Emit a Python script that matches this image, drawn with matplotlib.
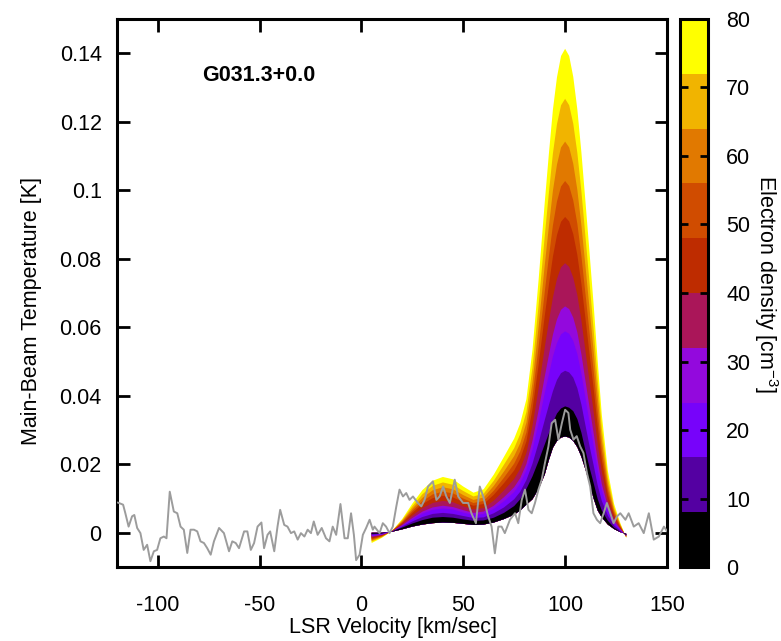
import matplotlib
matplotlib.use("Agg")
import matplotlib.pyplot as plt
from matplotlib.colors import ListedColormap, BoundaryNorm
from matplotlib.cm import ScalarMappable
from matplotlib.ticker import FuncFormatter

plt.rcParams["font.family"] = ["Liberation Sans", "DejaVu Sans"]
plt.rcParams["mathtext.fontset"] = "custom"
plt.rcParams["mathtext.rm"] = "Liberation Sans"
plt.rcParams["mathtext.it"] = "Liberation Sans:italic"
plt.rcParams["axes.unicode_minus"] = False

SOURCE = "G031.3+0.0"

# model velocity grid [km/s]
vel_model = [5, 10, 15, 20, 25, 30, 35, 40, 45, 50, 55, 60, 65, 70,
             75, 78, 81, 84, 87, 90, 92, 94, 96, 98, 100, 102, 104, 106, 108, 110,
             112, 114, 116, 118, 121, 124, 127, 130]

# lower edge of the model stack [K]
model_base = [0.0, 0.0, 0.0003, 0.0010, 0.0018, 0.0024, 0.0028, 0.0030, 0.0029, 0.0026,
              0.0023, 0.0024, 0.0030, 0.0040,
              0.0053, 0.0065, 0.0082, 0.0098, 0.0128, 0.0170, 0.0212, 0.0248, 0.0268, 0.0278,
              0.0281, 0.0278, 0.0268, 0.0250, 0.0222, 0.0185, 0.0143, 0.0100, 0.0065, 0.0045,
              0.0024, 0.0011, 0.0002, -0.0003]

# model spectra, one per electron density band [K]
model_n08 = [-0.0003, -0.0002, 0.0004, 0.0015, 0.0027, 0.0037, 0.0044, 0.0046, 0.0044, 0.0039,
             0.0035, 0.0036, 0.0044, 0.0058,
             0.0078, 0.0098, 0.0128, 0.0165, 0.0210, 0.0258, 0.0290, 0.0322, 0.0348, 0.0363,
             0.0369, 0.0365, 0.0355, 0.0332, 0.0292, 0.0240, 0.0190, 0.0145, 0.0098, 0.0065,
             0.0035, 0.0015, 0.0003, -0.0006]
model_n16 = [-0.0006, -0.0003, 0.0004, 0.0018, 0.0033, 0.0046, 0.0055, 0.0058, 0.0055, 0.0049,
             0.0043, 0.0045, 0.0057, 0.0074,
             0.0098, 0.0120, 0.0154, 0.0202, 0.0263, 0.0329, 0.0372, 0.0413, 0.0446, 0.0466,
             0.0473, 0.0468, 0.0453, 0.0422, 0.0374, 0.0313, 0.0253, 0.0197, 0.0138, 0.0093,
             0.0050, 0.0022, 0.0006, -0.0007]
model_n24 = [-0.0009, -0.0005, 0.0004, 0.0020, 0.0039, 0.0056, 0.0067, 0.0071, 0.0068, 0.0059,
             0.0052, 0.0055, 0.0070, 0.0092,
             0.0119, 0.0145, 0.0183, 0.0243, 0.0321, 0.0407, 0.0461, 0.0514, 0.0554, 0.0579,
             0.0588, 0.0581, 0.0560, 0.0522, 0.0464, 0.0393, 0.0322, 0.0254, 0.0182, 0.0124,
             0.0066, 0.0030, 0.0009, -0.0008]
model_n32 = [-0.0011, -0.0006, 0.0004, 0.0022, 0.0043, 0.0062, 0.0074, 0.0079, 0.0075, 0.0066,
             0.0058, 0.0062, 0.0079, 0.0104,
             0.0133, 0.0160, 0.0201, 0.0269, 0.0358, 0.0456, 0.0518, 0.0578, 0.0623, 0.0651,
             0.0661, 0.0653, 0.0628, 0.0585, 0.0521, 0.0443, 0.0366, 0.0291, 0.0211, 0.0143,
             0.0076, 0.0035, 0.0011, -0.0009]
model_n40 = [-0.0014, -0.0007, 0.0004, 0.0025, 0.0050, 0.0072, 0.0087, 0.0093, 0.0089, 0.0077,
             0.0068, 0.0072, 0.0094, 0.0124,
             0.0157, 0.0187, 0.0233, 0.0313, 0.0422, 0.0541, 0.0616, 0.0687, 0.0741, 0.0775,
             0.0787, 0.0776, 0.0745, 0.0694, 0.0619, 0.0530, 0.0441, 0.0353, 0.0259, 0.0177,
             0.0093, 0.0043, 0.0014, -0.0010]
model_n48 = [-0.0017, -0.0009, 0.0005, 0.0028, 0.0058, 0.0084, 0.0101, 0.0108, 0.0103, 0.0090,
             0.0079, 0.0084, 0.0111, 0.0145,
             0.0182, 0.0216, 0.0267, 0.0361, 0.0491, 0.0633, 0.0722, 0.0806, 0.0869, 0.0908,
             0.0922, 0.0909, 0.0872, 0.0811, 0.0726, 0.0625, 0.0522, 0.0421, 0.0311, 0.0213,
             0.0112, 0.0052, 0.0017, -0.0011]
model_n56 = [-0.0020, -0.0010, 0.0005, 0.0031, 0.0064, 0.0092, 0.0112, 0.0120, 0.0115, 0.0100,
             0.0087, 0.0093, 0.0123, 0.0161,
             0.0202, 0.0238, 0.0293, 0.0398, 0.0544, 0.0703, 0.0804, 0.0897, 0.0967, 0.1011,
             0.1027, 0.1012, 0.0970, 0.0902, 0.0807, 0.0697, 0.0585, 0.0473, 0.0351, 0.0241,
             0.0126, 0.0059, 0.0020, -0.0012]
model_n64 = [-0.0023, -0.0012, 0.0005, 0.0034, 0.0070, 0.0102, 0.0124, 0.0133, 0.0127, 0.0110,
             0.0096, 0.0103, 0.0137, 0.0179,
             0.0224, 0.0262, 0.0322, 0.0439, 0.0602, 0.0781, 0.0893, 0.0998, 0.1075, 0.1125,
             0.1142, 0.1125, 0.1077, 0.1001, 0.0897, 0.0777, 0.0654, 0.0531, 0.0396, 0.0272,
             0.0142, 0.0067, 0.0023, -0.0013]
model_n72 = [-0.0026, -0.0013, 0.0005, 0.0037, 0.0077, 0.0113, 0.0137, 0.0147, 0.0140, 0.0122,
             0.0106, 0.0114, 0.0152, 0.0199,
             0.0247, 0.0289, 0.0353, 0.0483, 0.0666, 0.0866, 0.0991, 0.1107, 0.1193, 0.1248,
             0.1267, 0.1248, 0.1194, 0.1109, 0.0996, 0.0864, 0.0729, 0.0593, 0.0444, 0.0306,
             0.0160, 0.0075, 0.0026, -0.0014]
model_n80 = [-0.0030, -0.0015, 0.0005, 0.0040, 0.0085, 0.0125, 0.0152, 0.0163, 0.0156, 0.0135,
             0.0117, 0.0127, 0.0170, 0.0222,
             0.0275, 0.0320, 0.0390, 0.0535, 0.0740, 0.0965, 0.1105, 0.1235, 0.1330, 0.1392,
             0.1413, 0.1392, 0.1331, 0.1236, 0.1110, 0.0966, 0.0817, 0.0666, 0.0500, 0.0345,
             0.0180, 0.0085, 0.0030, -0.0015]

density_edges = [0, 8, 16, 24, 32, 40, 48, 56, 64, 72, 80]
density_ticks = [0, 10, 20, 30, 40, 50, 60, 70, 80]

# observed spectrum
vel_obs = [-119.5, -117.0, -115.9, -114.3, -112.6, -111.5, -110.1, -108.5, -106.9, -105.2,
           -103.6, -101.9, -100.3, -98.7, -97.0, -95.7, -94.1, -92.1, -90.4, -88.8,
           -87.2, -85.5, -83.9, -82.2, -80.6, -79.0, -77.3, -75.7, -74.0, -72.4,
           -69.9, -67.5, -65.0, -63.4, -61.7, -60.1, -57.6, -56.0, -54.3, -52.7,
           -51.0, -49.1, -47.8, -46.1, -44.8, -42.8, -41.2, -39.9, -37.9, -36.3,
           -34.6, -33.0, -31.3, -29.7, -28.0, -26.4, -24.8, -23.4, -21.5, -19.5,
           -17.4, -15.7, -14.1, -12.4, -10.3, -8.3, -6.7, -5.1, -3.7, -2.6,
           -0.9, 0.7, 2.3, 4.0, 5.6, 6.4, 8.9, 10.5, 12.1, 13.8,
           15.4, 17.1, 18.7, 20.4, 22.0, 23.6, 25.3, 27.7, 29.4, 31.0,
           32.7, 35.1, 36.8, 38.4, 40.1, 41.7, 43.4, 45.8, 47.5, 49.9,
           52.4, 54.0, 56.2, 58.1, 59.8, 62.2, 63.9, 65.5, 67.2, 68.8,
           70.4, 72.9, 75.4, 77.0, 78.7, 80.3, 82.0, 83.6, 85.2, 86.9,
           88.5, 90.1, 91.8, 93.4, 95.1, 96.7, 98.4, 100.0, 101.6, 102.5,
           104.1, 105.7, 107.4, 109.0, 110.7, 112.3, 113.9, 115.6, 117.2, 118.9,
           120.5, 122.2, 123.8, 125.5, 127.1, 129.6, 131.2, 133.7, 136.1, 138.6,
           141.1, 143.5, 146.0, 148.5, 150.0]
temp_obs = [0.0088, 0.0082, 0.0057, 0.0018, 0.0048, 0.0052, 0.0014, -0.0001, -0.0050, -0.0035,
            -0.0083, -0.0054, -0.0050, -0.0016, -0.0011, -0.0016, 0.0120, 0.0062, 0.0057, 0.0018,
            0.0009, -0.0059, 0.0009, 0.0009, 0.0004, -0.0025, -0.0030, -0.0045, -0.0064, -0.0025,
            0.0014, -0.0001, -0.0054, -0.0025, -0.0030, -0.0045, 0.0004, 0.0004, -0.0050, -0.0030,
            0.0018, 0.0030, -0.0045, -0.0006, 0.0004, -0.0054, 0.0018, 0.0067, 0.0023, 0.0018,
            -0.0001, 0.0004, -0.0020, -0.0001, -0.0011, 0.0009, -0.0001, 0.0033, -0.0006, 0.0014,
            -0.0016, -0.0025, 0.0018, -0.0006, 0.0084, -0.0016, -0.0016, 0.0057, -0.0006, -0.0080,
            -0.0064, -0.0006, 0.0014, 0.0038, 0.0009, 0.0018, -0.0001, 0.0028, 0.0018, -0.0001,
            0.0018, 0.0076, 0.0126, 0.0106, 0.0116, 0.0096, 0.0106, 0.0087, 0.0077, 0.0096,
            0.0135, 0.0150, 0.0096, 0.0106, 0.0135, 0.0106, 0.0087, 0.0155, 0.0106, 0.0087,
            0.0087, 0.0057, 0.0028, 0.0135, 0.0106, 0.0048, 0.0018, -0.0060, 0.0018, 0.0018,
            -0.0001, 0.0038, 0.0057, 0.0028, 0.0096, 0.0126, 0.0067, 0.0057, 0.0087, 0.0126,
            0.0155, 0.0204, 0.0252, 0.0320, 0.0330, 0.0272, 0.0320, 0.0359, 0.0350, 0.0301,
            0.0272, 0.0282, 0.0252, 0.0233, 0.0175, 0.0135, 0.0057, 0.0038, 0.0028, 0.0057,
            0.0087, 0.0057, 0.0028, 0.0048, 0.0057, 0.0038, 0.0057, 0.0018, 0.0028, -0.0001,
            0.0057, -0.0020, -0.0011, 0.0018, 0.0005]

x_ticks = [-100, -50, 0, 50, 100, 150]
y_ticks = [0, 0.02, 0.04, 0.06, 0.08, 0.1, 0.12, 0.14]

model_curves = [model_n08, model_n16, model_n24, model_n32, model_n40,
                model_n48, model_n56, model_n64, model_n72, model_n80]

gnu = plt.get_cmap("gnuplot")
band_colors = [gnu(k / 9) for k in range(len(model_curves))]
band_cmap = ListedColormap(band_colors)
band_norm = BoundaryNorm(density_edges, band_cmap.N)

fig = plt.figure(figsize=(7.81, 6.41), dpi=100)
ax = fig.add_axes([0.1498, 0.1154, 0.7042, 0.855])

# highest density first, lower ones painted over it
for curve, color in reversed(list(zip(model_curves, band_colors))):
    ax.fill_between(vel_model, model_base, curve, facecolor=color, linewidth=0, zorder=1)

ax.plot(vel_obs, temp_obs, color="#9c9c9c", linewidth=1.4, zorder=3)

ax.set_xlim(-120, 150)
ax.set_ylim(-0.01, 0.15)
ax.set_xticks(x_ticks)
ax.set_yticks(y_ticks)
ax.yaxis.set_major_formatter(FuncFormatter(lambda v, p: "%g" % round(v, 4)))
ax.tick_params(direction="in", length=9, width=2, top=True, right=True,
               labelsize=15.5, color="black")
ax.tick_params(axis="x", pad=20)
ax.tick_params(axis="y", pad=11)
for spine in ax.spines.values():
    spine.set_linewidth(2.2)

ax.text(-78, 0.1335, SOURCE, fontsize=15.5, fontweight="bold", ha="left", va="center")

fig.text(393 / 781, 1 - 627 / 641, "LSR Velocity [km/sec]", fontsize=15.5,
         ha="center", va="center")
fig.text(32 / 781, 1 - 311 / 641, "Main-Beam Temperature [K]", fontsize=15.5,
         ha="center", va="center", rotation=90)

cax = fig.add_axes([680 / 781, 0.1154, 28 / 781, 0.855])
cb = fig.colorbar(ScalarMappable(norm=band_norm, cmap=band_cmap), cax=cax,
                  ticks=density_ticks)
cb.outline.set_linewidth(2.2)
cax.tick_params(direction="in", length=6, width=2, left=True, right=True,
                labelsize=15.5, pad=13, color="black")
cax.minorticks_off()
fig.text(766 / 781, 1 - 284 / 641, r"Electron density [cm$^{-3}$]", fontsize=15.5,
         ha="center", va="center", rotation=270)

fig.savefig("out.png", dpi=100)
plt.close(fig)
